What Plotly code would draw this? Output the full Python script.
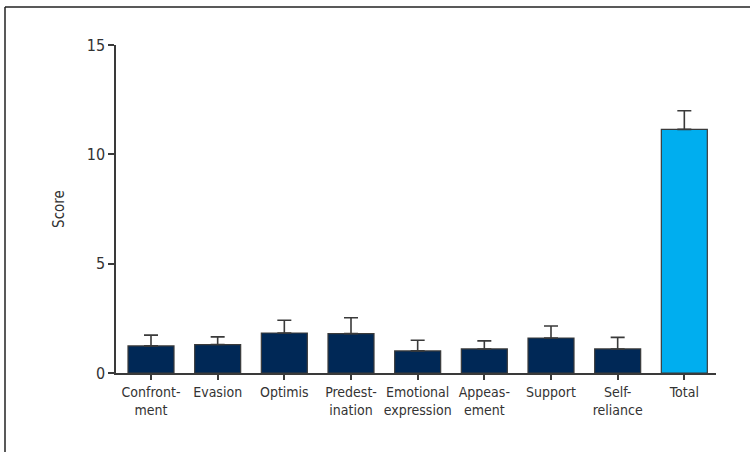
import plotly.graph_objects as go

# Coping-style scores (mean with upper SD)
categories = ["Confront-<br>ment", "Evasion", "Optimis", "Predest-<br>ination",
              "Emotional<br>expression", "Appeas-<br>ement", "Support",
              "Self-<br>reliance", "Total"]
means = [1.24, 1.30, 1.83, 1.80, 1.01, 1.10, 1.60, 1.10, 11.14]
sds = [0.49, 0.35, 0.58, 0.73, 0.49, 0.37, 0.55, 0.53, 0.85]
bar_colors = ["#002856"] * 8 + ["#00AEEF"]
y_ticks = [0, 5, 10, 15]

FONT = "Liberation Sans Narrow, DejaVu Sans Condensed, Arial Narrow, sans-serif"
W, H = 750, 452
L, R, T, B = 116, 34, 45, 79

fig = go.Figure()
fig.add_trace(go.Bar(
    x=list(range(len(categories))),
    y=means,
    width=0.69,
    marker=dict(color=bar_colors, line=dict(color="#3a3a3a", width=1.2)),
    error_y=dict(type="data", array=sds, arrayminus=[0] * len(sds),
                 symmetric=False, color="#3a3a3a", thickness=1.6, width=7),
    hoverinfo="skip",
))

# outer frame (left and top edges visible)
px_x = lambda p: (p - L) / (W - L - R)
px_y = lambda p: (H - B - p) / (H - T - B)
fig.add_shape(type="line", xref="paper", yref="paper",
              x0=px_x(5), x1=px_x(5), y0=px_y(7), y1=px_y(H + 10),
              line=dict(color="#222222", width=1.5))
fig.add_shape(type="line", xref="paper", yref="paper",
              x0=px_x(5), x1=px_x(W + 10), y0=px_y(7), y1=px_y(7),
              line=dict(color="#222222", width=1.5))

fig.update_layout(
    width=W, height=H,
    margin=dict(l=L, r=R, t=T, b=B),
    paper_bgcolor="white", plot_bgcolor="white",
    showlegend=False,
    font=dict(family=FONT, size=14, color="#333333"),
    bargap=0.31,
)
fig.update_xaxes(
    tickmode="array", tickvals=list(range(len(categories))), ticktext=categories,
    range=[-0.525, 8.475],
    showline=True, linecolor="#3a3a3a", linewidth=1.5,
    ticks="outside", ticklen=5, tickwidth=1.5, tickcolor="#3a3a3a",
    showgrid=False, zeroline=False,
    tickfont=dict(family=FONT, size=14, color="#333333"),
)
fig.update_yaxes(
    range=[0, 15], tickvals=y_ticks,
    showline=True, linecolor="#3a3a3a", linewidth=1.5,
    ticks="outside", ticklen=6, tickwidth=1.5, tickcolor="#3a3a3a",
    showgrid=False, zeroline=False,
    title=dict(text="Score", standoff=18, font=dict(family=FONT, size=15, color="#333333")),
    tickfont=dict(family=FONT, size=16, color="#333333"),
)

fig.write_html("out.html")
